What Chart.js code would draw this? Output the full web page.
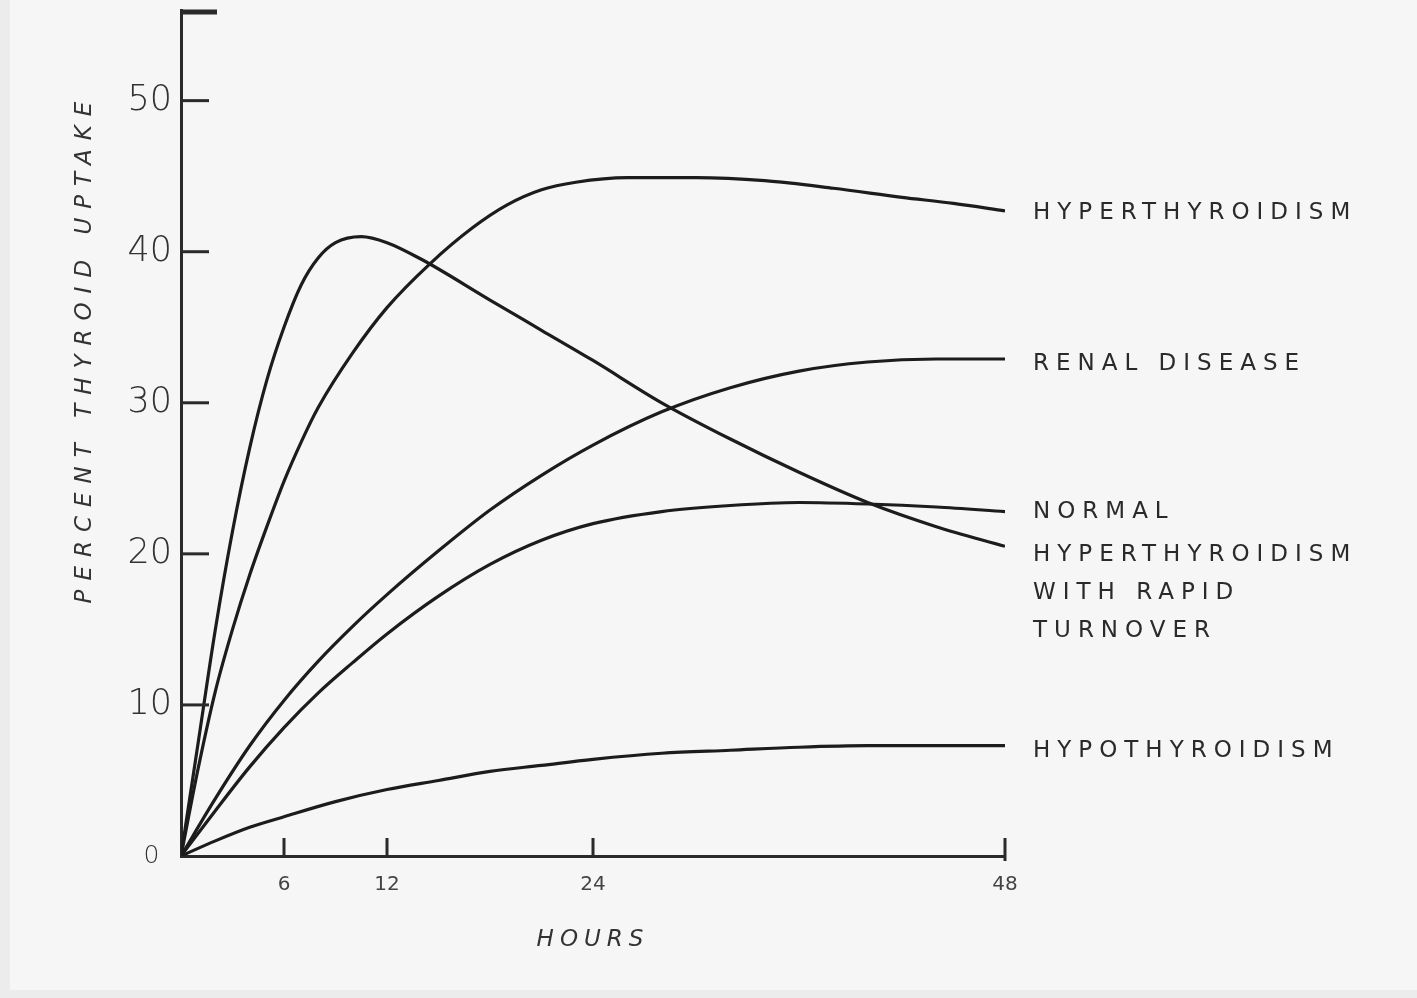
<!DOCTYPE html>
<html>
<head>
<meta charset="utf-8">
<title>Percent thyroid uptake</title>
<script src="https://cdn.jsdelivr.net/npm/chart.js@4.4.1/dist/chart.umd.min.js"></script>
<style>
  html, body { margin: 0; padding: 0; background: #f6f6f6; }
  canvas { display: block; }
</style>
</head>
<body>
<canvas id="uptakeChart" width="1417" height="998"></canvas>
<script>
// values (hours vs percent uptake)
const hyperHours = [0, 1, 2, 3, 4, 5, 6, 7, 8, 10, 12, 14.5, 17, 19, 21, 23, 26, 30, 34, 38, 42, 45, 48];
const hyperUptake = [0, 5.8, 10.9, 15.0, 18.6, 21.8, 24.8, 27.4, 29.7, 33.3, 36.3, 39.2, 41.6, 43.1, 44.1, 44.6, 44.9, 44.9, 44.7, 44.2, 43.6, 43.2, 42.7];

const renalHours = [0, 2, 4, 6, 8, 10, 12, 15, 18, 21, 24, 28, 32, 36, 40, 44, 48];
const renalUptake = [0, 3.8, 7.3, 10.3, 12.9, 15.2, 17.3, 20.2, 22.9, 25.2, 27.2, 29.4, 31.0, 32.1, 32.7, 32.9, 32.9];

const normalHours = [0, 2, 4, 6, 8, 10, 12, 15, 18, 21, 24, 28, 32, 36, 40, 44, 48];
const normalUptake = [0, 3.0, 5.9, 8.5, 10.8, 12.8, 14.7, 17.2, 19.3, 20.9, 22.0, 22.8, 23.2, 23.4, 23.3, 23.1, 22.8];

const rapidHours = [0, 1, 2, 3, 4, 5, 6, 7, 8, 9, 10.5, 12, 14, 18, 21, 24, 28, 32, 36, 40, 44, 48];
const rapidUptake = [0, 7.5, 15.0, 21.5, 27.0, 31.5, 35.0, 37.8, 39.6, 40.6, 41.0, 40.6, 39.5, 36.8, 34.8, 32.8, 30.0, 27.6, 25.4, 23.4, 21.8, 20.5];

const hypoHours = [0, 2, 4, 6, 9, 12, 15, 18, 21, 24, 28, 32, 36, 40, 44, 48];
const hypoUptake = [0, 1.0, 1.9, 2.6, 3.6, 4.4, 5.0, 5.6, 6.0, 6.4, 6.8, 7.0, 7.2, 7.3, 7.3, 7.3];

const xTickValues = [6, 12, 24, 48];
const yTickValues = [0, 10, 20, 30, 40, 50];

const curveLabels = [
  ['HYPERTHYROIDISM'],
  ['RENAL DISEASE'],
  ['NORMAL'],
  ['HYPERTHYROIDISM', 'WITH RAPID', 'TURNOVER'],
  ['HYPOTHYROIDISM'],
];

const INK = '#1c1c1c';
const TEXT = '#333333';

function toPoints(xs, ys) {
  return xs.map((x, i) => ({ x, y: ys[i] }));
}

function curve(label, xs, ys) {
  return {
    label,
    data: toPoints(xs, ys),
    borderColor: INK,
    borderWidth: 3.2,
    pointRadius: 0,
    fill: false,
    cubicInterpolationMode: 'monotone',
  };
}

// paper background
const paperPlugin = {
  id: 'paper',
  beforeDraw(chart) {
    const { ctx, width, height } = chart;
    ctx.save();
    ctx.fillStyle = '#ececec';
    ctx.fillRect(0, 0, width, height);
    ctx.fillStyle = '#f6f6f6';
    ctx.fillRect(10, 0, width - 10, height - 8);
    ctx.restore();
  },
};

// inside tick marks, axis titles, curve labels
const annotatePlugin = {
  id: 'annotate',
  afterDraw(chart) {
    const { ctx, chartArea } = chart;
    const xs = chart.scales.x;
    const ys = chart.scales.y;
    ctx.save();
    ctx.strokeStyle = '#2a2a2a';
    ctx.lineCap = 'butt';

    // y ticks pointing right
    ctx.lineWidth = 3;
    yTickValues.forEach((v) => {
      if (v === 0) return;
      const py = ys.getPixelForValue(v);
      ctx.beginPath();
      ctx.moveTo(chartArea.left, py);
      ctx.lineTo(chartArea.left + 28, py);
      ctx.stroke();
    });
    // cap at top of y axis
    ctx.lineWidth = 5;
    ctx.beginPath();
    ctx.moveTo(chartArea.left, chartArea.top + 2);
    ctx.lineTo(chartArea.left + 36, chartArea.top + 2);
    ctx.stroke();

    // x ticks pointing up
    ctx.lineWidth = 3;
    xTickValues.forEach((v) => {
      const px = xs.getPixelForValue(v);
      ctx.beginPath();
      ctx.moveTo(px, chartArea.bottom + (v === 48 ? 5 : 0));
      ctx.lineTo(px, chartArea.bottom - 18);
      ctx.stroke();
    });

    // axis titles
    ctx.fillStyle = TEXT;
    ctx.textAlign = 'center';
    ctx.textBaseline = 'middle';
    ctx.font = 'italic 23px "DejaVu Sans"';
    ctx.letterSpacing = '9px';
    ctx.save();
    ctx.translate(85, 352);
    ctx.rotate(-Math.PI / 2);
    ctx.fillText('PERCENT THYROID UPTAKE', 4, 0);
    ctx.restore();
    ctx.letterSpacing = '6px';
    ctx.fillText('HOURS', 593, 940);

    // curve labels at the right end of each line
    const offsets = [2, 5, 0, 9, 5];
    ctx.textAlign = 'left';
    ctx.font = '23px "DejaVu Sans"';
    ctx.letterSpacing = '7px';
    ctx.fillStyle = '#2a2a2a';
    chart.data.datasets.forEach((ds, i) => {
      const last = ds.data[ds.data.length - 1];
      const baseY = ys.getPixelForValue(last.y) + offsets[i];
      curveLabels[i].forEach((line, j) => {
        ctx.fillText(line, xs.right + 28, baseY + j * 38);
      });
    });
    ctx.restore();
  },
};

new Chart(document.getElementById('uptakeChart'), {
  type: 'line',
  data: {
    datasets: [
      curve('Hyperthyroidism', hyperHours, hyperUptake),
      curve('Renal disease', renalHours, renalUptake),
      curve('Normal', normalHours, normalUptake),
      curve('Hyperthyroidism with rapid turnover', rapidHours, rapidUptake),
      curve('Hypothyroidism', hypoHours, hypoUptake),
    ],
  },
  options: {
    responsive: false,
    animation: false,
    layout: { padding: { top: 10, right: 412, left: 0, bottom: 0 } },
    plugins: {
      legend: { display: false },
      tooltip: { enabled: false },
    },
    scales: {
      x: {
        type: 'linear',
        min: 0,
        max: 48,
        grid: { display: false, drawTicks: false },
        border: { display: true, color: '#2a2a2a', width: 3 },
        afterBuildTicks: (s) => { s.ticks = xTickValues.map((v) => ({ value: v })); },
        afterFit: (s) => { s.height = 142; s.paddingLeft = 0; s.paddingRight = 0; },
        ticks: {
          color: '#444',
          padding: 17,
          maxRotation: 0,
          font: { family: '"DejaVu Sans"', size: 20 },
        },
      },
      y: {
        min: 0,
        max: 56,
        grid: { display: false, drawTicks: false },
        border: { display: true, color: '#2a2a2a', width: 3 },
        afterBuildTicks: (s) => { s.ticks = yTickValues.map((v) => ({ value: v })); },
        afterFit: (s) => { s.width = 181; s.paddingTop = 0; s.paddingBottom = 0; },
        ticks: {
          color: '#333',
          padding: 9,
          callback: (v) => (v === 0 ? '0\u2002' : String(v)),
          font: (c) => ({
            family: '"DejaVu Sans"',
            weight: 200,
            size: c.tick && c.tick.value === 0 ? 25 : 35,
          }),
        },
      },
    },
  },
  plugins: [paperPlugin, annotatePlugin],
});
</script>
</body>
</html>
